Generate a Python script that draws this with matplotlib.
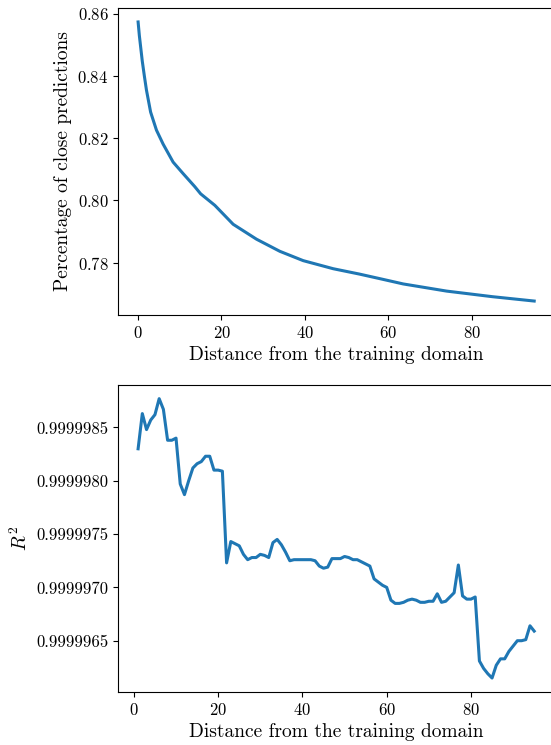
import matplotlib
matplotlib.use("Agg")
from matplotlib import pyplot as plt

# top panel: percentage of close predictions vs distance
dist_top = [0, 0.3, 1, 1.5, 2, 3, 4.4, 6, 8.4, 10.8, 13.6, 15, 18.4, 22.8, 28.4,
            34, 39.6, 46.8, 53, 58, 63.6, 74, 85, 95]
close_pct = [0.8574, 0.8530, 0.8448, 0.8400, 0.8355, 0.8284, 0.8226, 0.8181,
             0.8123, 0.8086, 0.8044, 0.8021, 0.7984, 0.7923, 0.7875, 0.7836,
             0.7806, 0.7780, 0.7763, 0.7748, 0.7731, 0.7708, 0.7690, 0.7676]

# bottom panel: R^2 vs distance (1..95)
dist_bot = list(range(1, 96))
r2 = [0.99999830, 0.99999863, 0.99999848, 0.99999857, 0.99999862, 0.99999877,
      0.99999867, 0.99999838, 0.99999838, 0.99999840, 0.99999797, 0.99999787,
      0.99999800, 0.99999812, 0.99999816, 0.99999818, 0.99999823, 0.99999823,
      0.99999810, 0.99999810, 0.99999809, 0.99999723, 0.99999743, 0.99999741,
      0.99999739, 0.99999731, 0.99999726, 0.99999728, 0.99999728, 0.99999731,
      0.99999730, 0.99999728, 0.99999742, 0.99999745, 0.99999740, 0.99999733,
      0.99999725, 0.99999726, 0.99999726, 0.99999726, 0.99999726, 0.99999726,
      0.99999725, 0.99999720, 0.99999718, 0.99999719, 0.99999727, 0.99999727,
      0.99999727, 0.99999729, 0.99999728, 0.99999726, 0.99999726, 0.99999724,
      0.99999722, 0.99999720, 0.99999708, 0.99999705, 0.99999702, 0.99999700,
      0.99999688, 0.99999685, 0.99999685, 0.99999686, 0.99999688, 0.99999689,
      0.99999688, 0.99999686, 0.99999686, 0.99999687, 0.99999687, 0.99999694,
      0.99999686, 0.99999687, 0.99999691, 0.99999695, 0.99999721, 0.99999692,
      0.99999689, 0.99999689, 0.99999691, 0.99999631, 0.99999624, 0.99999619,
      0.99999615, 0.99999627, 0.99999633, 0.99999633, 0.99999640, 0.99999645,
      0.99999650, 0.99999650, 0.99999651, 0.99999664, 0.99999659]

plt.rcParams["font.family"] = "serif"
plt.rcParams["font.serif"] = ["cmr10"]
plt.rcParams["mathtext.fontset"] = "cm"
plt.rcParams["axes.formatter.use_mathtext"] = True
plt.rcParams["font.size"] = 12
plt.rcParams["axes.labelsize"] = 14

W, H = 551, 745
fig = plt.figure(figsize=(W / 100, H / 100), dpi=100)

def box(left, top, right, bottom):
    return [left / W, 1 - bottom / H, (right - left) / W, (bottom - top) / H]

ax1 = fig.add_axes(box(118.3, 8, 554, 315))
ax1.plot(dist_top, close_pct, color="#1f77b4", lw=2.2)
ax1.set_xlabel("Distance from the training domain")
ax1.set_ylabel("Percentage of close predictions")
ax1.set_yticks([0.78, 0.80, 0.82, 0.84, 0.86])
ax1.set_xticks([0, 20, 40, 60, 80])

ax2 = fig.add_axes(box(118.3, 384.7, 554, 692))
ax2.plot(dist_bot, r2, color="#1f77b4", lw=2.2)
ax2.set_xlabel("Distance from the training domain")
ax2.set_ylabel("$R^2$")
ax2.ticklabel_format(axis="y", useOffset=False, style="plain")
ax2.set_yticks([0.9999965, 0.9999970, 0.9999975, 0.9999980, 0.9999985])
ax2.set_yticklabels(["0.9999965", "0.9999970", "0.9999975", "0.9999980", "0.9999985"])
ax2.set_xticks([0, 20, 40, 60, 80])

fig.savefig("out.png", dpi=100)
